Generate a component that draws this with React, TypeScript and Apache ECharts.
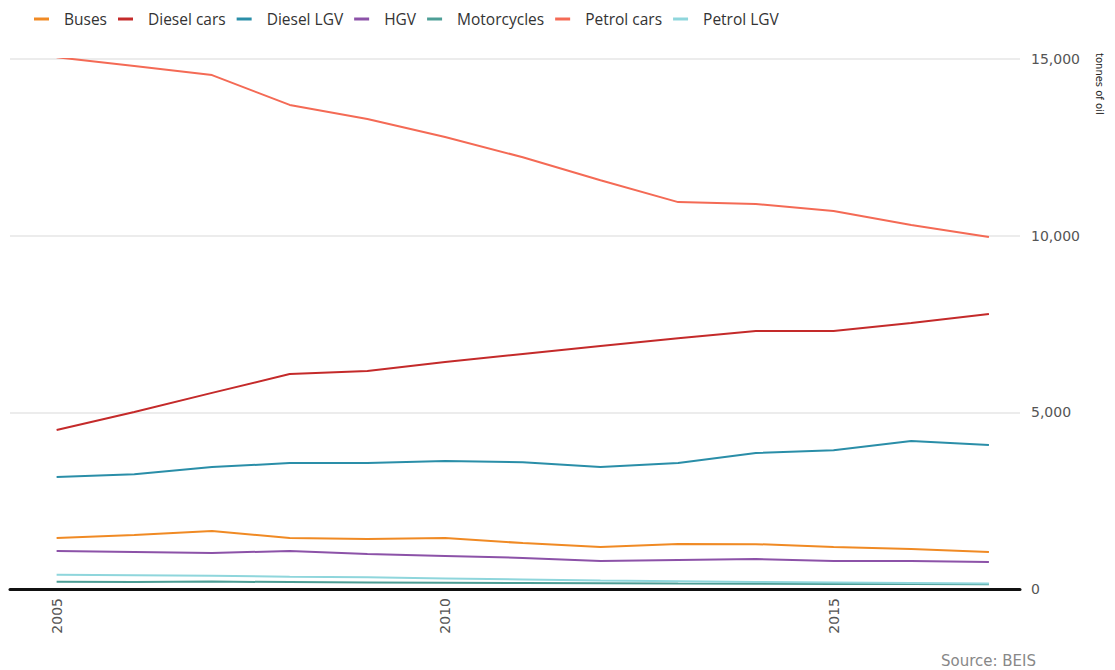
import React, { useEffect, useRef } from "react";
import * as echarts from "echarts";

const years = [2005, 2006, 2007, 2008, 2009, 2010, 2011, 2012, 2013, 2014, 2015, 2016, 2017];
const xTickLabels = [2005, 2010, 2015];
const yTicks = [0, 5000, 10000, 15000];

const buses = [1440, 1530, 1640, 1445, 1415, 1440, 1300, 1190, 1275, 1270, 1190, 1130, 1050];
const dieselCars = [4500, 5010, 5550, 6085, 6170, 6425, 6650, 6875, 7100, 7300, 7300, 7530, 7785];
const dieselLGV = [3170, 3250, 3450, 3565, 3565, 3620, 3590, 3450, 3565, 3850, 3930, 4190, 4075];
const hgv = [1075, 1050, 1020, 1075, 990, 935, 880, 790, 820, 850, 790, 790, 765];
const motorcycles = [205, 195, 210, 195, 185, 175, 170, 165, 155, 150, 145, 140, 135];
const petrolCars = [15050, 14800, 14545, 13700, 13300, 12790, 12220, 11570, 10950, 10895, 10700, 10300, 9960];
const petrolLGV = [400, 390, 375, 350, 330, 300, 270, 240, 220, 200, 185, 170, 155];

const seriesDefs = [
  { name: "Buses", data: buses, color: "#f08a24" },
  { name: "Diesel cars", data: dieselCars, color: "#c42a2a" },
  { name: "Diesel LGV", data: dieselLGV, color: "#2a8ea8" },
  { name: "HGV", data: hgv, color: "#8c52a8" },
  { name: "Motorcycles", data: motorcycles, color: "#4d9e96" },
  { name: "Petrol cars", data: petrolCars, color: "#f46a55" },
  { name: "Petrol LGV", data: petrolLGV, color: "#8fd6dc" },
];

export default function App() {
  const ref = useRef<HTMLDivElement>(null);
  useEffect(() => {
    if (!ref.current) return;
    const chart = echarts.init(ref.current, undefined, { renderer: "svg" });
    chart.setOption({
      animation: false,
      backgroundColor: "#ffffff",
      color: seriesDefs.map((s) => s.color),
      legend: {
        left: 29,
        top: 6,
        icon: "rect",
        itemWidth: 15,
        itemHeight: 3,
        itemGap: 11,
        textStyle: {
          fontFamily: "Open Sans",
          fontSize: 15.5,
          color: "#333",
          padding: [0, 0, 0, 10],
        },
        data: seriesDefs.map((s) => s.name),
      },
      grid: { left: 10, right: 95, top: 59, bottom: 81 },
      xAxis: {
        type: "value",
        min: 2004.4,
        max: 2017.4,
        splitLine: { show: false },
        axisTick: { show: false },
        axisLine: { show: true, lineStyle: { color: "#111", width: 3 } },
        axisLabel: {
          customValues: xTickLabels,
          rotate: 90,
          margin: 9,
          fontFamily: "DejaVu Sans",
          fontSize: 14,
          color: "#555",
          formatter: (v: number) => String(v),
        },
      },
      yAxis: {
        type: "value",
        position: "right",
        min: 0,
        max: 15000,
        interval: 5000,
        axisLine: { show: false },
        axisTick: { show: false },
        splitLine: { show: true, lineStyle: { color: "#e6e6e6", width: 1.5 } },
        axisLabel: {
          customValues: yTicks,
          margin: 11,
          fontFamily: "DejaVu Sans",
          fontSize: 14,
          color: "#555",
          formatter: (v: number) => v.toLocaleString("en-US"),
        },
      },
      series: seriesDefs.map((s) => ({
        name: s.name,
        type: "line",
        data: years.map((y, i) => [y, s.data[i]]),
        showSymbol: false,
        symbol: "none",
        lineStyle: { width: 2, color: s.color },
        itemStyle: { color: s.color },
        z: 3,
      })),
      graphic: [
        {
          type: "text",
          x: 1099,
          y: 53,
          rotation: -Math.PI / 2,
          style: {
            text: "tonnes of oil",
            fontFamily: "DejaVu Sans",
            fontSize: 10,
            fill: "#222",
            align: "left",
            verticalAlign: "middle",
          },
        },
        {
          type: "text",
          right: 79,
          bottom: 2,
          style: {
            text: "Source: BEIS",
            fontFamily: "DejaVu Sans",
            fontSize: 15,
            fill: "#888",
          },
        },
      ],
    });
    return () => chart.dispose();
  }, []);
  return (
    <div
      ref={ref}
      style={{ position: "absolute", left: 0, top: 0, width: 1115, height: 670 }}
    />
  );
}
